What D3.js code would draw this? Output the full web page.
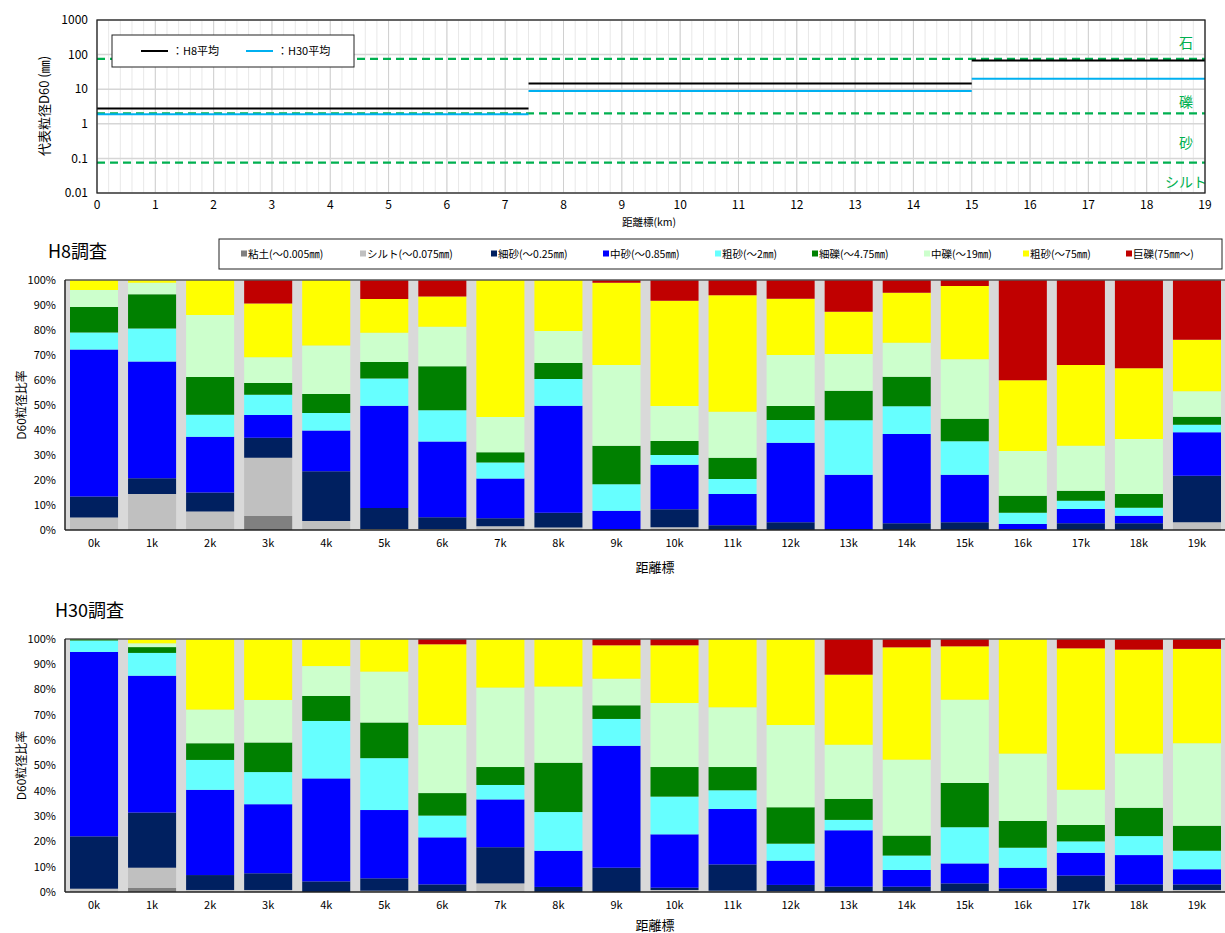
<!DOCTYPE html>
<html><head><meta charset="utf-8">
<script src="https://cdn.jsdelivr.net/npm/d3@7"></script>
<style>
body{margin:0;background:#fff;}
text{font-family:"Noto Sans CJK JP","Noto Sans",sans-serif;}
</style></head>
<body><svg id="c" width="1225" height="933"></svg>
<script>
// ---------- Top chart data ----------
const kmStart = [0, 7.4, 15];
const kmEnd = [7.4, 15, 19];
const h8Avg = [2.75, 14.5, 67];
const h30Avg = [1.9, 8.8, 20];
const thresholds = [0.075, 2, 75];
const zoneLabels = ["石", "礫", "砂", "シルト"];
const zoneAnchors = [215, 4.3, 0.28, 0.021];
const topXTicks = d3.range(0, 20, 1);
const topYTicks = [0.01, 0.1, 1, 10, 100, 1000];
const topYTickLabels = ["0.01", "0.1", "1", "10", "100", "1000"];

// ---------- Bar chart data ----------
const categories = ["0k","1k","2k","3k","4k","5k","6k","7k","8k","9k","10k","11k","12k","13k","14k","15k","16k","17k","18k","19k"];
const classes = ["粘土(～0.005㎜)","シルト(～0.075㎜)","細砂(～0.25㎜)","中砂(～0.85㎜)","粗砂(～2㎜)","細礫(～4.75㎜)","中礫(～19㎜)","粗砂(～75㎜)","巨礫(75㎜～)"];
const classColors = ["#808080","#c0c0c0","#002060","#0000ff","#66ffff","#008000","#ccffcc","#ffff00","#c00000"];
const pctTicks = [0,10,20,30,40,50,60,70,80,90,100];

const h8Clay = [0,0,0,5.6,0,0,0,0,0,0,0,0,0,0,0,0,0,0,0,0];
const h8Silt = [5,14.4,7.4,23.3,3.6,0.4,0.4,1.5,1,0,1.1,0,0,0,0,0,0,0,0,3.1];
const h8FineSand = [8.4,6.3,7.6,8,19.9,8.4,4.7,3.2,5.9,0.4,7.2,1.9,3.1,0.4,2.7,3.1,0.3,2.7,2.7,18.6];
const h8MedSand = [58.8,46.7,22.3,9.1,16.3,40.9,30.3,15.9,42.8,7.3,17.8,12.5,31.8,21.7,35.7,19,2.1,5.7,3,17.4];
const h8CoarseSand = [6.8,13.2,8.8,8.1,7,10.9,12.5,6.4,10.7,10.6,3.9,6,9.1,21.8,11.1,13.4,4.5,3.3,3.2,3];
const h8FineGravel = [10.2,13.7,15.1,4.7,7.6,6.6,17.6,4.1,6.4,15.4,5.6,8.5,5.6,11.8,11.8,9,6.8,4,5.5,3.2];
const h8MedGravel = [6.8,4.6,24.8,10.3,19.4,11.7,15.8,14.1,12.8,32.3,14,18.4,20.4,14.7,13.6,23.8,17.9,18,22,10.2];
const h8CoarseGravel = [4,1.1,14,21.5,26.2,13.5,12.1,54.8,20.4,32.9,42.1,46.6,22.5,16.9,20,29.3,28.3,32.3,28.3,20.6];
const h8Boulder = [0,0,0,9.4,0,7.6,6.6,0,0,1.1,8.3,6.1,7.5,12.7,5.1,2.4,40.1,34,35.3,23.9];

const h30Clay = [0,1.7,0,0,0,0,0,0,0,0,0,0,0,0,0,0,0,0,0,0];
const h30Silt = [1.3,7.9,0.8,0.8,0,0.5,0.3,3.4,0,0,0.8,0.5,0.3,0,0.3,0.3,0.3,0.3,0.3,0.8];
const h30FineSand = [20.7,21.8,5.9,6.6,4.2,4.9,2.7,14.3,2,9.6,0.9,10.4,2.5,2.1,1.8,3.1,1.1,6.2,2.7,2.2];
const h30MedSand = [72.9,54.1,33.7,27.3,40.7,27,18.6,18.9,14.3,48.2,21.1,21.9,9.6,22.3,6.6,7.9,8.2,9,11.6,6];
const h30CoarseSand = [4.5,9,11.8,12.7,22.7,20.5,8.6,5.7,15.3,10.6,14.9,7.4,6.7,4.1,5.7,14.3,7.9,4.5,7.5,7.3];
const h30FineGravel = [0.6,2.3,6.6,11.7,9.9,14.1,8.9,7.1,19.5,5.4,11.7,9.2,14.4,8.3,7.9,17.5,10.6,6.5,11.2,9.9];
const h30MedGravel = [0,1.5,13.3,16.8,11.8,20.1,26.9,31.4,30.1,10.5,25.3,23.6,32.5,21.4,30,32.9,26.6,13.9,21.4,32.6];
const h30CoarseGravel = [0,1.7,27.9,24.1,10.7,12.9,31.9,19.2,18.8,13.2,22.8,27,34,27.7,44.4,21.1,45.3,55.9,41.1,37.3];
const h30Boulder = [0,0,0,0,0,0,2.1,0,0,2.5,2.5,0,0,14.1,3.3,2.9,0,3.7,4.2,3.9];

const h8Series = [h8Clay,h8Silt,h8FineSand,h8MedSand,h8CoarseSand,h8FineGravel,h8MedGravel,h8CoarseGravel,h8Boulder];
const h30Series = [h30Clay,h30Silt,h30FineSand,h30MedSand,h30CoarseSand,h30FineGravel,h30MedGravel,h30CoarseGravel,h30Boulder];

const svg = d3.select("#c");

// ================= TOP CHART =================
(function(){
  const L=97,R=1205,T=20,B=193;
  const x = d3.scaleLinear().domain([0,19]).range([L,R]);
  const y = d3.scaleLog().domain([0.01,1000]).range([B,T]);
  const g = svg.append("g");
  g.selectAll("line.vmin").data(d3.range(0,19.001,0.2)).join("line")
    .attr("x1",d=>x(d)).attr("x2",d=>x(d)).attr("y1",T).attr("y2",B)
    .attr("stroke","#e8e8e8").attr("stroke-width",1);
  g.selectAll("line.vmaj").data(topXTicks).join("line")
    .attr("x1",d=>x(d)).attr("x2",d=>x(d)).attr("y1",T).attr("y2",B)
    .attr("stroke","#d0d0d0").attr("stroke-width",1);
  g.selectAll("line.hmaj").data(topYTicks).join("line")
    .attr("x1",L).attr("x2",R).attr("y1",d=>y(d)).attr("y2",d=>y(d))
    .attr("stroke","#d6d6d6").attr("stroke-width",1.5);
  g.selectAll("line.thr").data(thresholds).join("line")
    .attr("x1",L).attr("x2",R).attr("y1",d=>y(d)).attr("y2",d=>y(d))
    .attr("stroke","#00b050").attr("stroke-width",2.2).attr("stroke-dasharray","8,5");
  const segs = kmStart.map((s,i)=>({s,e:kmEnd[i],h8:h8Avg[i],h30:h30Avg[i]}));
  g.selectAll("line.h30").data(segs).join("line")
    .attr("x1",d=>x(d.s)).attr("x2",d=>x(d.e)).attr("y1",d=>y(d.h30)).attr("y2",d=>y(d.h30))
    .attr("stroke","#00b0f0").attr("stroke-width",2);
  g.selectAll("line.h8").data(segs).join("line")
    .attr("x1",d=>x(d.s)).attr("x2",d=>x(d.e)).attr("y1",d=>y(d.h8)).attr("y2",d=>y(d.h8))
    .attr("stroke","#000").attr("stroke-width",2);
  g.selectAll("text.zone").data(zoneLabels).join("text")
    .attr("x",1186).attr("y",(d,i)=>y(zoneAnchors[i])).attr("dy","0.35em")
    .attr("text-anchor","middle").attr("fill","#00b050").attr("font-size",14)
    .text(d=>d);
  g.append("rect").attr("x",L).attr("y",T).attr("width",R-L).attr("height",B-T)
    .attr("fill","none").attr("stroke","#222").attr("stroke-width",1.3);
  g.selectAll("text.xt").data(topXTicks).join("text")
    .attr("x",d=>x(d)).attr("y",B+16).attr("text-anchor","middle").attr("font-size",12).text(d=>d);
  g.selectAll("text.yt").data(topYTicks).join("text")
    .attr("x",L-9).attr("y",d=>y(d)).attr("dy","0.35em").attr("text-anchor","end").attr("font-size",12)
    .text((d,i)=>topYTickLabels[i]);
  g.append("text").attr("x",622).attr("y",226).attr("font-size",10.5).text("距離標(km)");
  g.append("text").attr("transform","translate(44,106) rotate(-90)").attr("text-anchor","middle")
    .attr("dy","0.35em").attr("font-size",13).text("代表粒径D60 (㎜)");
  g.append("rect").attr("x",112).attr("y",35).attr("width",242).attr("height",32)
    .attr("fill","#fff").attr("stroke","#222").attr("stroke-width",1);
  g.append("line").attr("x1",141).attr("x2",168).attr("y1",51).attr("y2",51).attr("stroke","#000").attr("stroke-width",2);
  g.append("text").attr("x",172).attr("y",51).attr("dy","0.35em").attr("font-size",11).text("：H8平均");
  g.append("line").attr("x1",246).attr("x2",273).attr("y1",51).attr("y2",51).attr("stroke","#00b0f0").attr("stroke-width",2);
  g.append("text").attr("x",277).attr("y",51).attr("dy","0.35em").attr("font-size",11).text("：H30平均");
})();

// ================= BAR CHARTS =================
function barChart(series, T, B, title, titleX, titleY, xTitleY){
  const L=65, R=1226;
  const x = d3.scaleBand().domain(categories).range([L,R]).paddingInner(10/58).paddingOuter(5/58);
  const y = d3.scaleLinear().domain([0,100]).range([B,T]);
  const g = svg.append("g");
  g.append("rect").attr("x",L).attr("y",T).attr("width",R-L).attr("height",B-T).attr("fill","#d9d9d9");
  const rows = categories.map((c,i)=>{const o={cat:c}; classes.forEach((k,j)=>o[k]=series[j][i]); return o;});
  const stacked = d3.stack().keys(classes)(rows);
  g.selectAll("g.s").data(stacked).join("g").attr("fill",(d,i)=>classColors[i])
    .selectAll("rect").data(d=>d).join("rect")
    .attr("x",d=>x(d.data.cat)).attr("width",x.bandwidth())
    .attr("y",d=>y(d[1])).attr("height",d=>Math.max(0,y(d[0])-y(d[1])));
  g.append("line").attr("x1",L).attr("x2",R).attr("y1",T).attr("y2",T).attr("stroke","#555").attr("stroke-width",1.5);
  g.append("line").attr("x1",L).attr("x2",R).attr("y1",B).attr("y2",B).attr("stroke","#222").attr("stroke-width",1.5);
  g.append("line").attr("x1",L).attr("x2",L).attr("y1",T).attr("y2",B).attr("stroke","#222").attr("stroke-width",1.5);
  g.selectAll("text.yt").data(pctTicks).join("text")
    .attr("x",56).attr("y",d=>y(d)).attr("dy","0.35em").attr("text-anchor","end").attr("font-size",11)
    .text(d=>d+"%");
  g.selectAll("text.xt").data(categories).join("text")
    .attr("x",d=>x(d)+x.bandwidth()/2).attr("y",B+17).attr("text-anchor","middle").attr("font-size",11).text(d=>d);
  g.append("text").attr("x",655).attr("y",xTitleY).attr("dy","0.35em").attr("text-anchor","middle").attr("font-size",13).text("距離標");
  g.append("text").attr("transform",`translate(22,${(T+B)/2}) rotate(-90)`).attr("text-anchor","middle")
    .attr("dy","0.35em").attr("font-size",12).text("D60粒径比率");
  g.append("text").attr("x",titleX).attr("y",titleY).attr("font-size",18).text(title);
}
barChart(h8Series, 280, 530, "H8調査", 48, 258, 567);
barChart(h30Series, 639, 892, "H30調査", 55, 617, 925);

// legend for bar chart
(function(){
  const g = svg.append("g");
  g.append("rect").attr("x",219).attr("y",239).attr("width",1003).attr("height",30)
    .attr("fill","#fff").attr("stroke","#222").attr("stroke-width",1);
  const lx = [241,360,491,603,715,812,924,1023,1126];
  const items = g.selectAll("g.li").data(classes).join("g")
    .attr("transform",(d,i)=>`translate(${lx[i]},254)`);
  items.append("rect").attr("x",0).attr("y",-3.5).attr("width",6).attr("height",6).attr("fill",(d,i)=>classColors[i]);
  items.append("text").attr("x",7).attr("y",0).attr("dy","0.35em").attr("font-size",10.5).text(d=>d);
})();
</script></body></html>
